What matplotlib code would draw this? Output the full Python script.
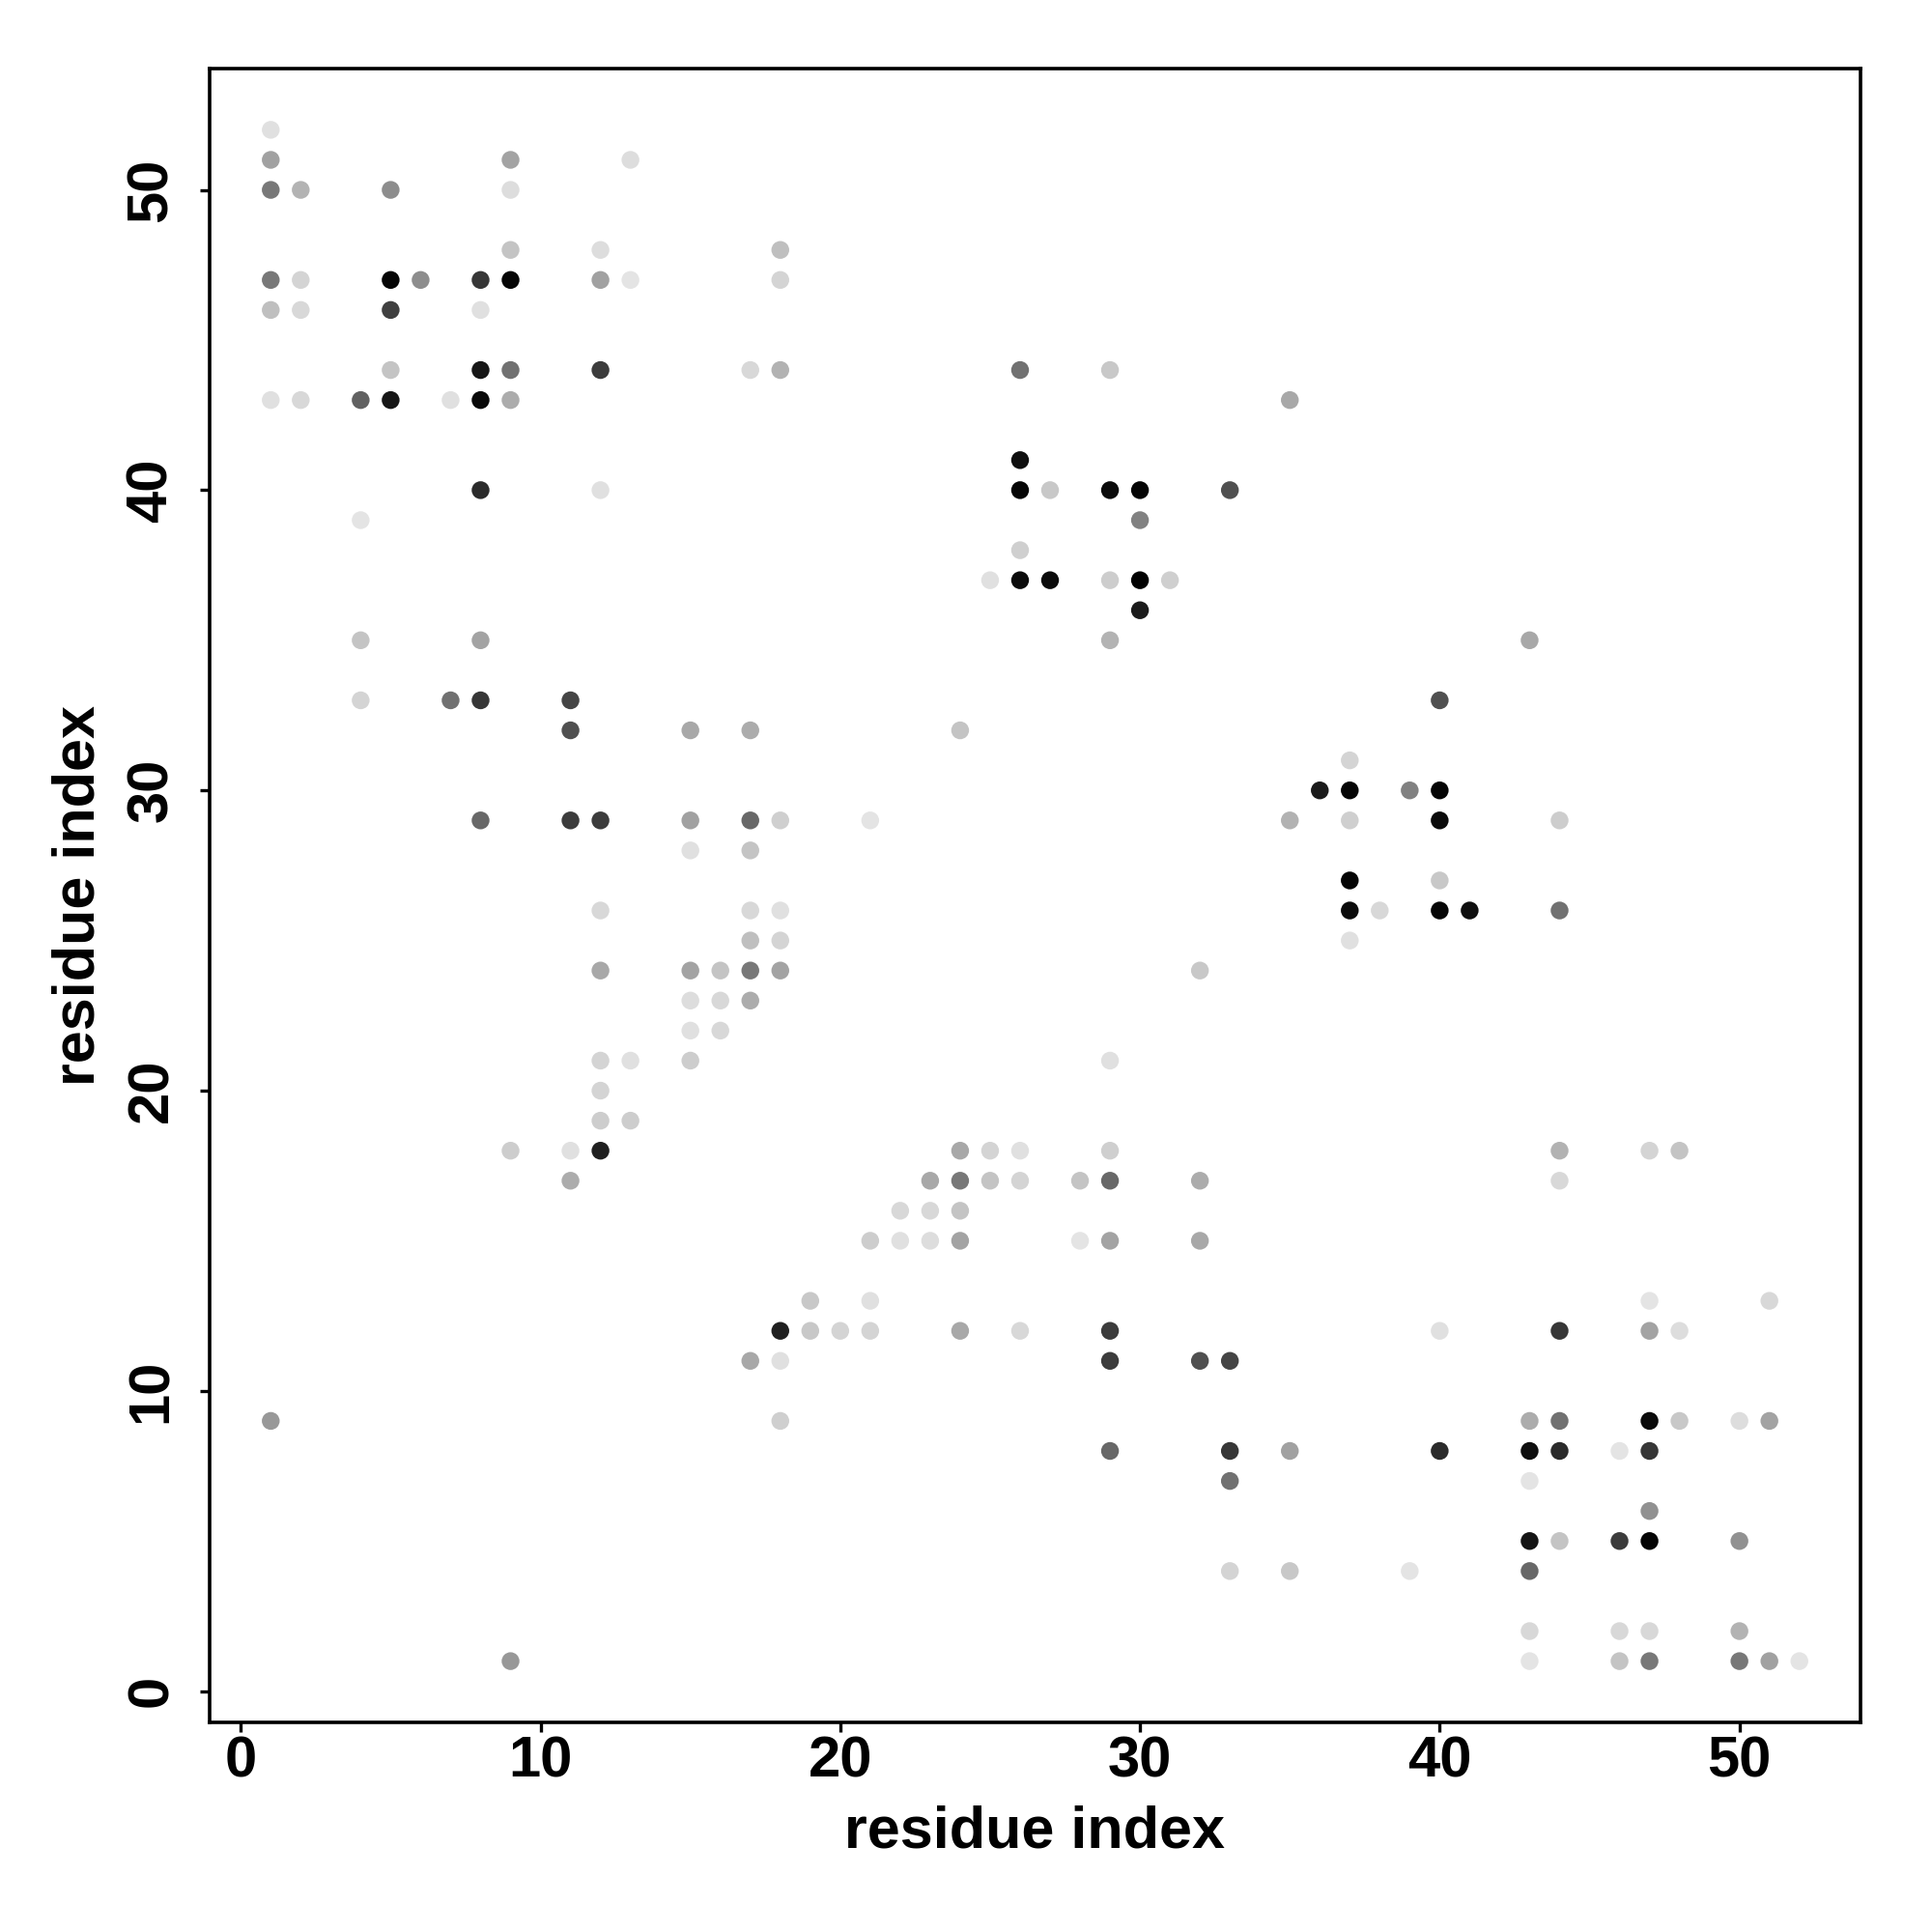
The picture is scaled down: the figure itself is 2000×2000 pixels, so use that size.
import matplotlib
matplotlib.use("Agg")
import matplotlib.pyplot as plt
from matplotlib.colors import LinearSegmentedColormap

# contact pairs (i, j) and their predicted contact probability
res_i = [
    1,
    1, 9, 13,
    1, 2, 5, 9,
    9, 12, 18,
    1, 2, 5, 6, 8, 9, 12, 13, 18,
    1, 2, 5, 8,
    5, 8, 9, 12, 17, 18, 26, 29,
    1, 2, 4, 5, 7, 8, 9, 35,
    26,
    8, 12, 26, 27, 29, 30, 33,
    4, 30,
    26,
    25, 26, 27, 29, 30, 31,
    30,
    4, 8, 29, 43,
    4, 7, 8, 11, 40,
    11, 15, 17, 24,
    37,
    36, 37, 39, 40,
    8, 11, 12, 15, 17, 18, 21, 35, 37, 40, 44,
    15, 17,
    37, 40,
    12, 17, 18, 37, 38, 40, 41, 44,
    17, 18, 37,
    12, 15, 16, 17, 18, 32,
    15, 16, 17,
    15, 16,
    12, 13, 15, 29,
    12,
    12, 13,
    9, 11, 12, 24, 25, 26, 29, 44, 47, 48,
    11, 23, 24, 25, 26, 28, 29, 32, 44,
    22, 23, 24,
    21, 22, 23, 24, 28, 29, 32,
    19, 21, 47, 51,
    18, 19, 20, 21, 24, 26, 29, 40, 44, 47, 48,
    17, 18, 29, 32, 33,
    1, 18, 43, 44, 47, 48, 50, 51,
    29, 33, 35, 40, 43, 44, 46, 47,
    33, 43,
    47,
    43, 44, 46, 47, 50,
    33, 35, 39, 43,
    43, 46, 47, 50,
    9, 43, 46, 47, 50, 51, 52,
]
res_j = (
    [52] * 1 + [51] * 3 + [50] * 4 + [48] * 3 + [47] * 9 + [46] * 4
    + [44] * 8 + [43] * 8 + [41] * 1 + [40] * 7 + [39] * 2 + [38] * 1
    + [37] * 6 + [36] * 1 + [35] * 4 + [33] * 5 + [32] * 4 + [31] * 1
    + [30] * 4 + [29] * 11 + [28] * 2 + [27] * 2 + [26] * 8 + [25] * 3
    + [24] * 6 + [23] * 3 + [22] * 2 + [21] * 4 + [20] * 1 + [19] * 2
    + [18] * 10 + [17] * 9 + [16] * 3 + [15] * 7 + [13] * 4 + [12] * 11
    + [11] * 5 + [9] * 8 + [8] * 8 + [7] * 2 + [6] * 1 + [5] * 5
    + [4] * 4 + [2] * 4 + [1] * 7
)
prob = [
    0.03,
    0.30, 0.29, 0.04,
    0.48, 0.22, 0.39, 0.04,
    0.15, 0.04, 0.17,
    0.48, 0.08, 0.97, 0.39, 0.76, 0.97, 0.30, 0.01, 0.08,
    0.17, 0.06, 0.72, 0.03,
    0.15, 0.90, 0.51, 0.74, 0.06, 0.23, 0.51, 0.13,
    0.03, 0.06, 0.58, 0.90, 0.03, 0.96, 0.25, 0.27,
    0.93,
    0.81, 0.03, 0.97, 0.13, 0.95, 0.98, 0.65,
    0.01, 0.44,
    0.10,
    0.03, 0.95, 0.95, 0.11, 0.99, 0.10,
    0.88,
    0.15, 0.29, 0.22, 0.27,
    0.08, 0.51, 0.76, 0.70, 0.65,
    0.65, 0.27, 0.25, 0.15,
    0.08,
    0.88, 0.98, 0.44, 0.98,
    0.55, 0.74, 0.74, 0.30, 0.55, 0.10, 0.01, 0.23, 0.10, 0.95, 0.11,
    0.03, 0.15,
    0.98, 0.13,
    0.06, 0.06, 0.03, 0.95, 0.06, 0.97, 0.93, 0.51,
    0.17, 0.08, 0.03,
    0.27, 0.29, 0.15, 0.48, 0.29, 0.13,
    0.04, 0.06, 0.25,
    0.03, 0.06,
    0.08, 0.03, 0.11, 0.03,
    0.08,
    0.11, 0.11,
    0.11, 0.03, 0.86, 0.27, 0.08, 0.03, 0.10, 0.23, 0.08, 0.15,
    0.25, 0.27, 0.48, 0.15, 0.08, 0.15, 0.55, 0.25, 0.06,
    0.06, 0.06, 0.15,
    0.11, 0.03, 0.04, 0.29, 0.01, 0.29, 0.27,
    0.13, 0.03, 0.01, 0.06,
    0.86, 0.13, 0.08, 0.08, 0.27, 0.06, 0.74, 0.03, 0.76, 0.29, 0.04,
    0.27, 0.03, 0.74, 0.65, 0.70,
    0.34, 0.10, 0.25, 0.51, 0.95, 0.13, 0.04, 0.29,
    0.55, 0.76, 0.30, 0.81, 0.93, 0.81, 0.01, 0.76,
    0.51, 0.01,
    0.37,
    0.91, 0.15, 0.74, 0.98, 0.37,
    0.08, 0.13, 0.01, 0.55,
    0.06, 0.06, 0.06, 0.22,
    0.34, 0.01, 0.15, 0.48, 0.48, 0.30, 0.01,
]

plt.rcParams["font.family"] = ["Liberation Sans", "DejaVu Sans"]

greys = LinearSegmentedColormap.from_list("greys", ["#e6e6e6", "#000000"])

fig = plt.figure(figsize=(10, 10), dpi=200)
ax = fig.add_axes([0.1085, 0.1085, 0.8545, 0.856])

ax.scatter(res_i, res_j, c=prob, cmap=greys, vmin=0, vmax=1,
           s=44, linewidths=0, zorder=3)

ax.set_xlim(-1.04, 54.04)
ax.set_ylim(-1.04, 54.04)
ax.set_xticks(range(0, 51, 10))
ax.set_yticks(range(0, 51, 10))

for sp in ax.spines.values():
    sp.set_linewidth(1.3)

ax.tick_params(direction="out", length=3.5, width=1.2, labelsize=21.5)
ax.tick_params(axis="x", pad=1.5)
ax.tick_params(axis="y", pad=8)
for lab in ax.get_xticklabels() + ax.get_yticklabels():
    lab.set_fontweight("bold")
for lab in ax.get_yticklabels():
    lab.set_rotation(90)
    lab.set_verticalalignment("center")

ax.set_xlabel("residue index", fontsize=22, fontweight="bold", labelpad=6)
ax.set_ylabel("residue index", fontsize=22, fontweight="bold", labelpad=7)

fig.savefig("out.png", dpi=200)
